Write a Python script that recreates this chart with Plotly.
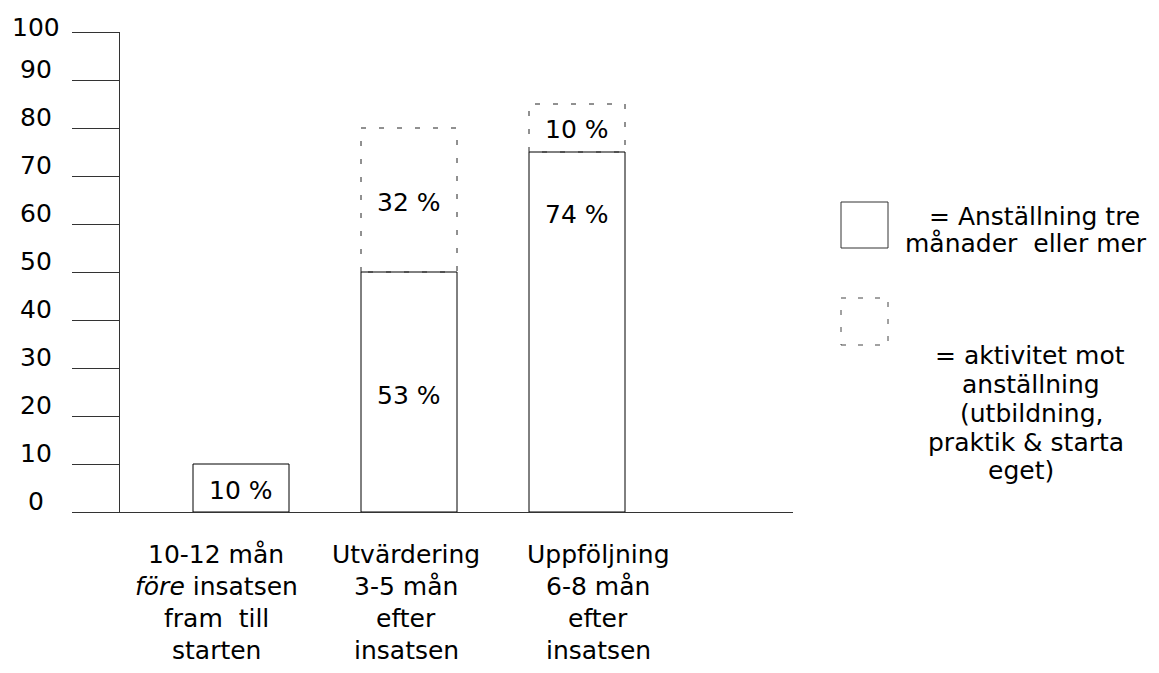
import plotly.graph_objects as go

# ---- data ----
categories = [
    ["10-12 mån", "<i>före</i> insatsen", "fram  till", "starten"],
    ["Utvärdering", "3-5 mån", "efter", "insatsen"],
    ["Uppföljning", "6-8 mån", "efter", "insatsen"],
]
employment = [10, 50, 75]          # solid bars (drawn height)
activity = [0, 30, 10]             # dashed bars stacked on top
employment_labels = ["10 %", "53 %", "74 %"]
activity_labels = ["", "32 %", "10 %"]
y_ticks = [0, 10, 20, 30, 40, 50, 60, 70, 80, 90, 100]
legend_solid_text = ["= Anställning tre", "månader  eller mer"]
legend_dash_text = ["= aktivitet mot", "anställning", "(utbildning,", "praktik & starta", "eget)"]

# ---- layout constants (page has an 8px body offset) ----
OFF = 8
W, H = 1159 - OFF, 673 - OFF
L, R, T, B = 120 - OFF, 366, 32 - OFF, 161
PW, PH = W - L - R, H - T - B
FONT = dict(family="DejaVu Sans, Verdana, sans-serif", size=25, color="black")
BAR_W = 96 / 168
XR = [-121 / 168, -121 / 168 + PW / 168]

def px(x):
    return (x - OFF - L) / PW

def py(y):
    return (H - B - (y - OFF)) / PH

xs = list(range(len(categories)))
fig = go.Figure()

fig.add_trace(go.Bar(
    x=xs, y=employment, width=BAR_W,
    marker=dict(color="white", line=dict(color="black", width=1)),
    hoverinfo="skip", showlegend=False,
))

# dashed outlines for activity segments
for i, (base, h) in enumerate(zip(employment, activity)):
    if h <= 0:
        continue
    x0, x1 = i - BAR_W / 2, i + BAR_W / 2
    fig.add_trace(go.Scatter(
        x=[x0, x0, x1, x1, x0], y=[base, base + h, base + h, base, base],
        mode="lines", line=dict(color="#222", width=1, dash="5px,13px"),
        hoverinfo="skip", showlegend=False,
    ))

annotations = []
# bar labels (placement within bars)
emp_label_pos = [4.4, 24.2, 61.9]
act_label_pos = [None, 64.4, 79.6]
for i in xs:
    annotations.append(dict(x=i, y=emp_label_pos[i], text=employment_labels[i], showarrow=False,
                            font=FONT, xanchor="center", yanchor="middle"))
    if activity_labels[i]:
        annotations.append(dict(x=i, y=act_label_pos[i], text=activity_labels[i], showarrow=False,
                                font=FONT, xanchor="center", yanchor="middle"))

# y tick labels
for v in y_ticks:
    annotations.append(dict(xref="paper", x=px(36), y=v, yref="y", text=str(v), showarrow=False,
                            font=FONT, xanchor="center", yanchor="middle",
                            yshift=5 if v == 100 else 11))

# category labels (one annotation per line)
cat_x = [216, 406, 598]
line_y = [554, 586, 618, 650]
for i, lines in enumerate(categories):
    for j, t in enumerate(lines):
        annotations.append(dict(xref="paper", yref="paper", x=px(cat_x[i]), y=py(line_y[j]),
                                text=t, showarrow=False, font=FONT,
                                xanchor="center", yanchor="middle"))

# legend text
leg1_x = [1034, 1026]
leg1_y = [216, 243]
for j, t in enumerate(legend_solid_text):
    annotations.append(dict(xref="paper", yref="paper", x=px(leg1_x[j]), y=py(leg1_y[j]), text=t,
                            showarrow=False, font=FONT, xanchor="center", yanchor="middle"))
leg2_x = [1030, 1031, 1031, 1026, 1021]
leg2_y = [355, 384, 413, 442, 470]
for j, t in enumerate(legend_dash_text):
    annotations.append(dict(xref="paper", yref="paper", x=px(leg2_x[j]), y=py(leg2_y[j]), text=t,
                            showarrow=False, font=FONT, xanchor="center", yanchor="middle"))

shapes = [
    dict(type="rect", xref="paper", yref="paper", x0=px(841), x1=px(888), y0=py(248), y1=py(202),
         line=dict(color="#333", width=1), fillcolor="white"),
    dict(type="rect", xref="paper", yref="paper", x0=px(841), x1=px(888), y0=py(345), y1=py(298),
         line=dict(color="#444", width=1, dash="5px,12px"), fillcolor="rgba(0,0,0,0)"),
]

fig.update_layout(
    width=W, height=H, autosize=False,
    margin=dict(l=L, r=R, t=T, b=B, pad=0),
    paper_bgcolor="white", plot_bgcolor="white",
    font=FONT,
    showlegend=False,
    annotations=annotations,
    shapes=shapes,
    xaxis=dict(range=XR, showgrid=False, zeroline=False, showticklabels=False, ticks="",
               showline=True, linecolor="#333", linewidth=1, fixedrange=True),
    yaxis=dict(range=[0, 100], tickvals=y_ticks, showticklabels=False, ticks="outside",
               ticklen=47, tickcolor="#333", tickwidth=1, showgrid=False, zeroline=False,
               showline=True, linecolor="#333", linewidth=1, fixedrange=True),
)

fig.write_html("out.html", config={"displayModeBar": False})
